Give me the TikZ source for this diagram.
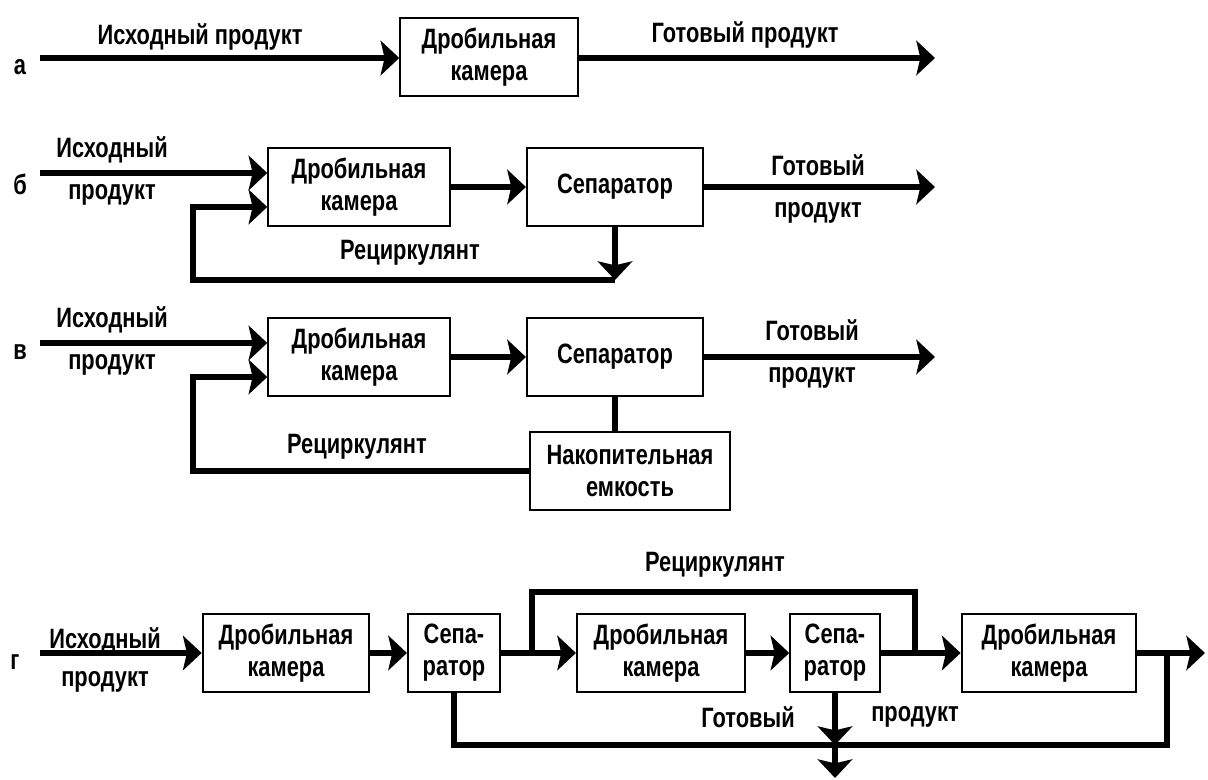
\documentclass[tikz,border=0pt]{standalone}
\usepackage{fontspec}
\setmainfont{Liberation Sans}[FakeStretch=0.78]
\usetikzlibrary{positioning}
\usetikzlibrary{arrows.meta}
\tikzset{every node/.style={ % text of the scheme
			font=\bfseries\fontsize{21}{24}\selectfont,
			align=center},
		box/.style={draw, line width=1.6pt, inner sep=0pt, minimum height=58pt},
		flow/.style={line width=5pt},
		tip/.style={-{Stealth[length=14pt,width=26pt,inset=3pt]}}}

\begin{document}
\begin{tikzpicture}[x=0.75pt,y=-0.75pt]
			\useasboundingbox (0,0) rectangle (1208,780);
			% a
			\node (la) at (20,67) {а};
			\node [box, minimum width=133pt] (A1) at (489,57) {Дробильная\\камера};
			\node (aSrc) at (200,37) {Исходный продукт};
			\node (aOut) at (745,35) {Готовый продукт};
			\coordinate (a0) at (40,58);
			\coordinate (a9) at (935,58);
			\draw [flow,tip] (a0) -- (a0 -| A1.west);
			\draw [flow,tip] (a0 -| A1.east) -- (a9);
			
			% b
			\node (lb) at (20,184) {б};
			\node [box, minimum width=136pt] (B1) at (359,187) {Дробильная\\камера};
			\node [box, minimum width=132pt] (B2) at (615,187) {Сепаратор};
			\node (bSrc) at (112,171) {Исходный\\[8pt]продукт};
			\node (bOut) at (818,189) {Готовый\\[8pt]продукт};
			\node (bRec) at (410,253) {Рециркулянт};
			\coordinate (b0) at (40,173);
			\coordinate (b9) at (935,187);
			\coordinate (bIn) at (193,207);
			\coordinate (bLow) at (193,280);
			\draw [flow,tip] (b0) -- (b0 -| B1.west);
			\draw [flow,tip] (B1) -- (B2);
			\draw [flow,tip] (B2) -- (b9);
			\draw [flow,tip] (B2.south) -- (B2.south |- bLow);
			\draw [flow,tip] (B2.south |- bLow) -- (bLow) -- (bIn) -- (bIn -| B1.west);
			
			% v
			\node (lc) at (20,352) {в};
			\node [box, minimum width=136pt] (C1) at (359,357) {Дробильная\\камера};
			\node [box, minimum width=132pt] (C2) at (615,357) {Сепаратор};
			\node [box, minimum width=150pt] (C3) at (630,471) {Накопительная\\емкость};
			\node (cSrc) at (112,341) {Исходный\\[8pt]продукт};
			\node (cOut) at (812,354) {Готовый\\[8pt]продукт};
			\node (cRec) at (357,447) {Рециркулянт};
			\coordinate (c0) at (40,343);
			\coordinate (c9) at (935,357);
			\coordinate (cIn) at (193,377);
			\draw [flow,tip] (c0) -- (c0 -| C1.west);
			\draw [flow,tip] (C1) -- (C2);
			\draw [flow,tip] (C2) -- (c9);
			\draw [flow] (C2.south) -- (C2.south |- C3.north);
			\draw [flow,tip] (C3.west) -- (C3.west -| cIn) -- (cIn) -- (cIn -| C1.west);
			
			% g
			\node (ld) at (15,662) {г};
			\node [box, minimum width=125pt] (D1) at (286,653) {Дробильная\\камера};
			\node [box, minimum width=69pt] (D2) at (454,653) {Сепа-\\ратор};
			\node [box, minimum width=126pt] (D3) at (661,653) {Дробильная\\камера};
			\node [box, minimum width=67pt] (D4) at (835,653) {Сепа-\\ратор};
			\node [box, minimum width=131pt] (D5) at (1049,653) {Дробильная\\камера};
			\node (dSrc) at (105,660) {Исходный\\[4pt]продукт};
			\node (dRec) at (715,565) {Рециркулянт};
			\node (dOut1) at (748,717) {Готовый};
			\node (dOut2) at (915,717) {продукт};
			\coordinate (d0) at (40,653);
			\coordinate (d9) at (1205,653);
			\coordinate (dUp1) at (532,592);
			\coordinate (dUp2) at (915,592);
			\coordinate (dJ) at (1167,745);
			\coordinate (dEnd) at (835,778);
			\draw [flow,tip] (d0) -- (D1);
			\draw [flow,tip] (D1) -- (D2);
			\draw [flow,tip] (D2) -- (D3);
			\draw [flow,tip] (D3) -- (D4);
			\draw [flow,tip] (D4) -- (D5);
			\draw [flow,tip] (D5) -- (d9);
			\draw [flow] (dUp1 |- D2.east) -- (dUp1) -- (dUp2) -- (dUp2 |- D4.east);
			\draw [flow] (dJ |- D5.east) -- (dJ) -- (dJ -| D2.south) -- (D2.south);
			\draw [flow,tip] (D4.south) -- (D4.south |- dJ);
			\draw [flow,tip] (D4.south |- dJ) -- (dEnd);
		\end{tikzpicture}
\end{document}
